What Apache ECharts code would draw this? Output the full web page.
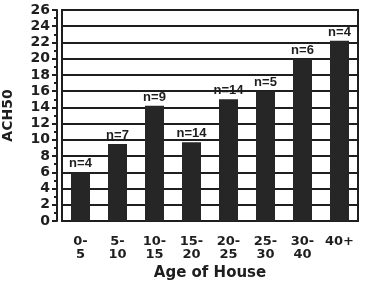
<!DOCTYPE html>
<html>
<head>
<meta charset="utf-8">
<script src="https://cdn.jsdelivr.net/npm/echarts@6/dist/echarts.min.js"></script>
<style>html,body{margin:0;padding:0;background:#fff;}#c{width:370px;height:282px;}</style>
</head>
<body>
<div id="c"></div>
<script>
var categories = ["0-\n5", "5-\n10", "10-\n15", "15-\n20", "20-\n25", "25-\n30", "30-\n40", "40+"];
var ach50 = [6.0, 9.5, 14.2, 9.7, 15.0, 16.0, 20.0, 22.2];
var nLabels = ["n=4", "n=7", "n=9", "n=14", "n=14", "n=5", "n=6", "n=4"];
var yTicks = [0, 26, 2];

var ink = '#1e1e1e';
var chart = echarts.init(document.getElementById('c'), null, {renderer: 'canvas'});
chart.setOption({
  backgroundColor: '#ffffff',
  animation: false,
  grid: {left: 62, right: 12, top: 10, bottom: 61, outerBoundsMode: 'none', containLabel: false, show: true, borderColor: ink, borderWidth: 2, backgroundColor: 'transparent'},
  xAxis: {
    type: 'category',
    data: categories,
    name: 'Age of House',
    nameLocation: 'middle',
    nameGap: 44,
    nameTextStyle: {fontFamily: 'DejaVu Sans', fontWeight: 'bold', fontSize: 15, color: ink},
    axisLine: {lineStyle: {color: ink, width: 2}},
    axisTick: {alignWithLabel: true, length: 6, lineStyle: {color: ink, width: 2}},
    axisLabel: {interval: 0, margin: 14, fontFamily: 'DejaVu Sans', fontWeight: 'bold', fontSize: 13, lineHeight: 13, color: ink}
  },
  yAxis: {
    type: 'value',
    min: yTicks[0], max: yTicks[1], interval: yTicks[2],
    offset: 5,
    name: 'ACH50',
    nameLocation: 'middle',
    nameGap: 42,
    nameTextStyle: {fontFamily: 'DejaVu Sans', fontWeight: 'bold', fontSize: 14, color: ink},
    axisLine: {show: true, lineStyle: {color: ink, width: 2}},
    axisTick: {show: true, length: 5, lineStyle: {color: ink, width: 2}},
    minorTick: {show: true, splitNumber: 2, length: 3, lineStyle: {color: ink, width: 2}},
    splitLine: {show: true, lineStyle: {color: ink, width: 2}},
    axisLabel: {margin: 7, fontFamily: 'DejaVu Sans', fontWeight: 'bold', fontSize: 14, color: ink}
  },
  series: [{
    type: 'bar',
    data: ach50,
    barWidth: 19,
    itemStyle: {color: '#262626'},
    label: {
      show: true, position: 'top', distance: 2,
      fontFamily: 'Liberation Sans', fontWeight: 'bold', fontSize: 13, color: ink,
      formatter: function (p) { return nLabels[p.dataIndex]; }
    }
  }]
});
</script>
</body>
</html>
